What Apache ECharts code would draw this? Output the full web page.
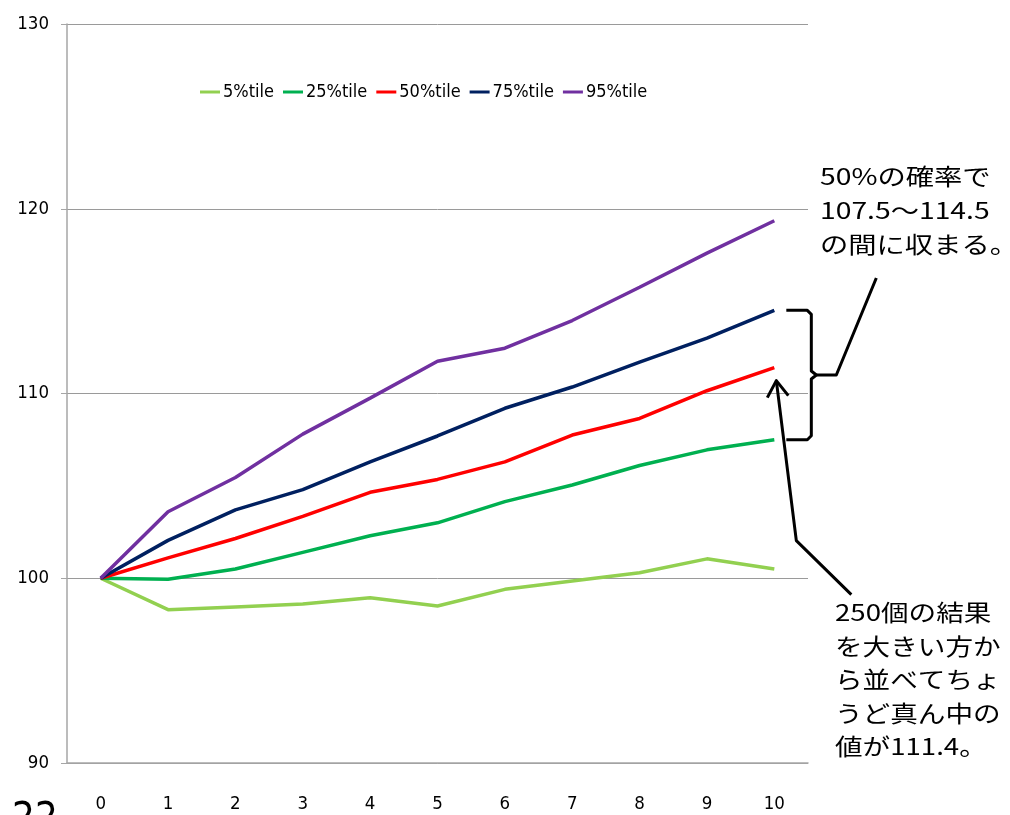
<!DOCTYPE html>
<html>
<head>
<meta charset="utf-8">
<script src="https://cdn.jsdelivr.net/npm/echarts@6/dist/echarts.min.js"></script>
<style>
  html, body { margin: 0; padding: 0; background: #fff; }
  #chart { width: 1010px; height: 815px; }
</style>
</head>
<body>
<div id="chart"></div>
<script>
// year index
const years = ['0', '1', '2', '3', '4', '5', '6', '7', '8', '9', '10'];

// percentile paths
const p5  = [100, 98.3, 98.45, 98.6, 98.95, 98.5, 99.4, 99.85, 100.3, 101.05, 100.5];
const p25 = [100, 99.95, 100.5, 101.4, 102.3, 103.0, 104.15, 105.05, 106.1, 106.95, 107.5];
const p50 = [100, 101.1, 102.15, 103.35, 104.65, 105.35, 106.3, 107.75, 108.65, 110.15, 111.4];
const p75 = [100, 102.05, 103.7, 104.8, 106.3, 107.7, 109.2, 110.35, 111.7, 113.0, 114.5];
const p95 = [100, 103.6, 105.45, 107.8, 109.75, 111.75, 112.45, 113.95, 115.75, 117.6, 119.35];

const seriesNames = ['5%tile', '25%tile', '50%tile', '75%tile', '95%tile'];
const seriesData = [p5, p25, p50, p75, p95];
const colors = ['#92D050', '#00B050', '#FF0000', '#002060', '#7030A0'];

const yTicks = { min: 90, max: 130, interval: 10 };

const noteRange = '50%の確率で\n107.5～114.5\nの間に収まる。';
const noteMedian = '250個の結果\nを大きい方か\nら並べてちょ\nうど真ん中の\n値が111.4。';

const narrow = "'Liberation Sans Narrow', 'DejaVu Sans Condensed', sans-serif";
const jp = "'Noto Sans CJK JP', sans-serif";

let chart = echarts.init(document.getElementById('chart'));

chart.setOption({
  animation: false,
  color: colors,
  legend: {
    data: seriesNames,
    left: 195,
    top: 78,
    icon: 'rect',
    itemWidth: 20,
    itemHeight: 3,
    itemGap: 9,
    textStyle: { fontFamily: narrow, fontSize: 18, color: '#000', padding: [0, 0, 0, -2] }
  },
  grid: { left: 67, right: 202, top: 24, bottom: 52 },
  xAxis: {
    type: 'category',
    data: years,
    boundaryGap: true,
    axisLine: { lineStyle: { color: '#a6a6a6', width: 1.5 } },
    axisTick: { inside: true, length: 9, lineStyle: { color: '#a6a6a6' } },
    axisLabel: { margin: 32, fontFamily: narrow, fontSize: 18.5, color: '#000' },
    splitLine: { show: false }
  },
  yAxis: {
    type: 'value',
    min: yTicks.min,
    max: yTicks.max,
    interval: yTicks.interval,
    axisLine: { show: true, lineStyle: { color: '#a6a6a6', width: 1.5 } },
    axisTick: { show: true, length: 6, lineStyle: { color: '#a6a6a6' } },
    axisLabel: { margin: 18, fontFamily: narrow, fontSize: 18.5, color: '#000' },
    splitLine: { lineStyle: { color: '#9a9a9a', width: 1 } }
  },
  series: seriesNames.map((name, i) => ({
    name: name,
    type: 'line',
    data: seriesData[i],
    showSymbol: false,
    symbol: 'none',
    lineStyle: { width: 3.5, color: colors[i] },
    itemStyle: { color: colors[i] },
    z: 2 + i
  }))
});

// annotations anchored on the last point of each series
const last = years.length - 1;
const pt = (arr) => chart.convertToPixel({ gridIndex: 0 }, [last, arr[last]]);
const top75 = pt(p75), mid50 = pt(p50), bot25 = pt(p25);

const bx0 = top75[0] + 12, bx1 = top75[0] + 37;
const yT = top75[1], yB = bot25[1], yM = (yT + yB) / 2;
const ink = { stroke: '#000', lineWidth: 3, fill: null, lineJoin: 'round' };

const tip = [mid50[0] + 2, mid50[1] + 13];
const elbow = [tip[0] + 20, tip[1] + 160];

chart.setOption({
  graphic: [
    {
      type: 'polyline',
      shape: { points: [[bx0, yT], [bx1 - 4, yT], [bx1, yT + 4], [bx1, yM - 4], [bx1 + 5, yM],
        [bx1, yM + 4], [bx1, yB - 4], [bx1 - 4, yB], [bx0, yB]] },
      style: ink
    },
    {
      type: 'polyline',
      shape: { points: [[bx1 + 5, yM], [bx1 + 25, yM], [bx1 + 65, yM - 97]] },
      style: ink
    },
    {
      type: 'polyline',
      shape: { points: [[elbow[0] + 55, elbow[1] + 54], elbow, tip] },
      style: ink
    },
    {
      type: 'polyline',
      shape: { points: [[tip[0] - 9, tip[1] + 17], tip, [tip[0] + 12, tip[1] + 15]] },
      style: ink
    },
    {
      type: 'text',
      left: 820,
      top: 159,
      scaleX: 1.23,
      style: { text: noteRange, font: '23px ' + jp, fill: '#000', lineHeight: 34 }
    },
    {
      type: 'text',
      left: 835,
      top: 596,
      scaleX: 1.2,
      style: { text: noteMedian, font: '23px ' + jp, fill: '#000', lineHeight: 33.5 }
    },
    {
      type: 'text',
      left: 12,
      top: 801,
      style: { text: '22', font: '40px ' + narrow, fill: '#000' }
    }
  ]
});
</script>
</body>
</html>
